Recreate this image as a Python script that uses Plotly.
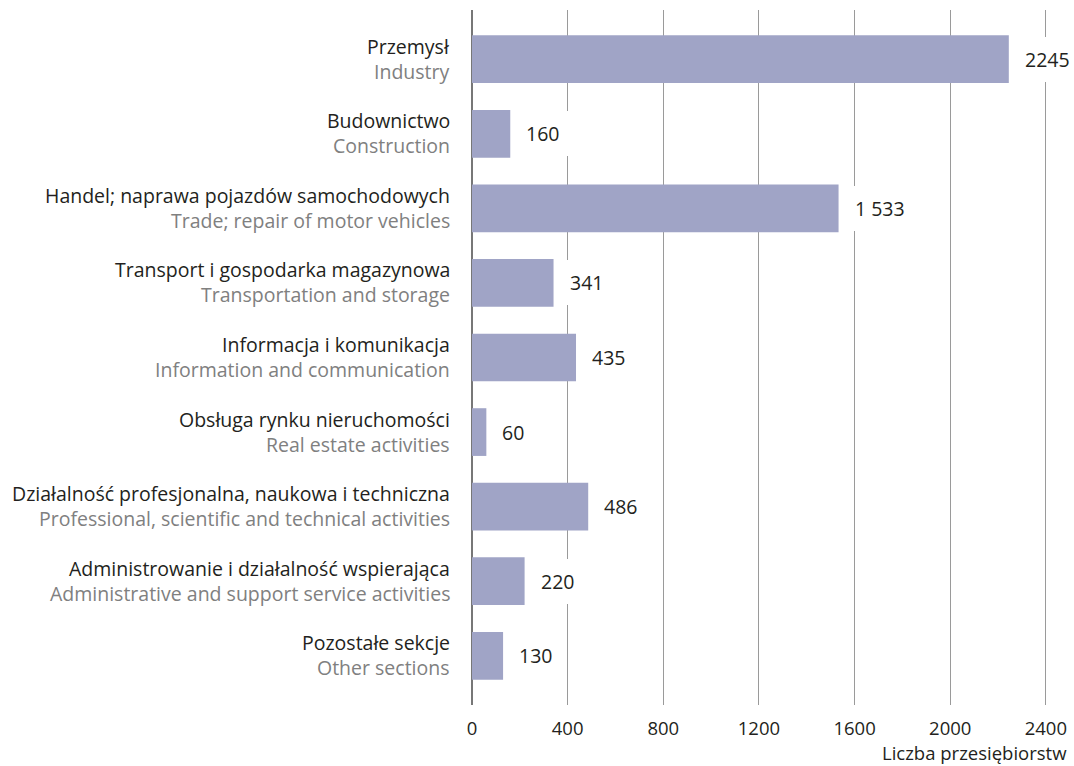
import plotly.graph_objects as go

# Data
labels_pl = [
    "Przemysł",
    "Budownictwo",
    "Handel; naprawa pojazdów samochodowych",
    "Transport i gospodarka magazynowa",
    "Informacja i komunikacja",
    "Obsługa rynku nieruchomości",
    "Działalność profesjonalna, naukowa i techniczna",
    "Administrowanie i działalność wspierająca",
    "Pozostałe sekcje",
]
labels_en = [
    "Industry",
    "Construction",
    "Trade; repair of motor vehicles",
    "Transportation and storage",
    "Information and communication",
    "Real estate activities",
    "Professional, scientific and technical activities",
    "Administrative and support service activities",
    "Other sections",
]
values = [2245, 160, 1533, 341, 435, 60, 486, 220, 130]
value_text = ["2245", "160", "1 533", "341", "435", "60", "486", "220", "130"]
x_ticks = [0, 400, 800, 1200, 1600, 2000, 2400]

FONT = "Open Sans"
BAR = "#a0a4c6"
DARK = "#231f20"
GREY = "#808080"

cats = list(range(len(values)))

fig = go.Figure()
fig.add_trace(go.Bar(
    x=values,
    y=cats,
    orientation="h",
    marker=dict(color=BAR, line=dict(width=0)),
    width=0.64,
    hoverinfo="skip",
))

# category labels, two lines (Polish / English)
for i in cats:
    fig.add_annotation(x=0, y=i, xref="paper", yref="y", text=labels_pl[i],
                       xanchor="right", yanchor="middle", xshift=-20, yshift=13,
                       showarrow=False, font=dict(family=FONT, size=19.5, color=DARK))
    fig.add_annotation(x=0, y=i, xref="paper", yref="y", text=labels_en[i],
                       xanchor="right", yanchor="middle", xshift=-20, yshift=-12,
                       showarrow=False, font=dict(family=FONT, size=19.5, color=GREY))
    # value labels on white box
    fig.add_annotation(x=values[i], y=i, xref="x", yref="y", text=value_text[i],
                       xanchor="left", yanchor="middle", xshift=7,
                       showarrow=False, bgcolor="white", borderpad=9, borderwidth=0,
                       font=dict(family=FONT, size=19.5, color=DARK))

fig.add_annotation(x=1, y=0, xref="paper", yref="paper", text="Liczba przesiębiorstw",
                   xanchor="right", yanchor="top", xshift=4, yshift=-33,
                   showarrow=False, font=dict(family=FONT, size=18.5, color=DARK))

fig.update_layout(
    width=1074,
    height=766,
    margin=dict(l=472, r=7, t=10, b=61),
    paper_bgcolor="white",
    plot_bgcolor="white",
    showlegend=False,
    font=dict(family=FONT, size=18.5, color=DARK),
    xaxis=dict(
        range=[0, 2480],
        tickvals=x_ticks,
        ticktext=[str(v) for v in x_ticks],
        showgrid=True,
        gridcolor="#9a9a9a",
        gridwidth=1,
        zeroline=True,
        zerolinecolor="#777777",
        zerolinewidth=1.5,
        showline=False,
        ticks="",
        ticklabelstandoff=10,
        tickfont=dict(family=FONT, size=18.5, color=DARK),
    ),
    yaxis=dict(
        range=[8.66, -0.66],
        showticklabels=False,
        showgrid=False,
        zeroline=False,
        showline=False,
        ticks="",
    ),
)

fig.write_html("out.html", config={"displayModeBar": False},
               post_script="document.body.style.margin='0';")
